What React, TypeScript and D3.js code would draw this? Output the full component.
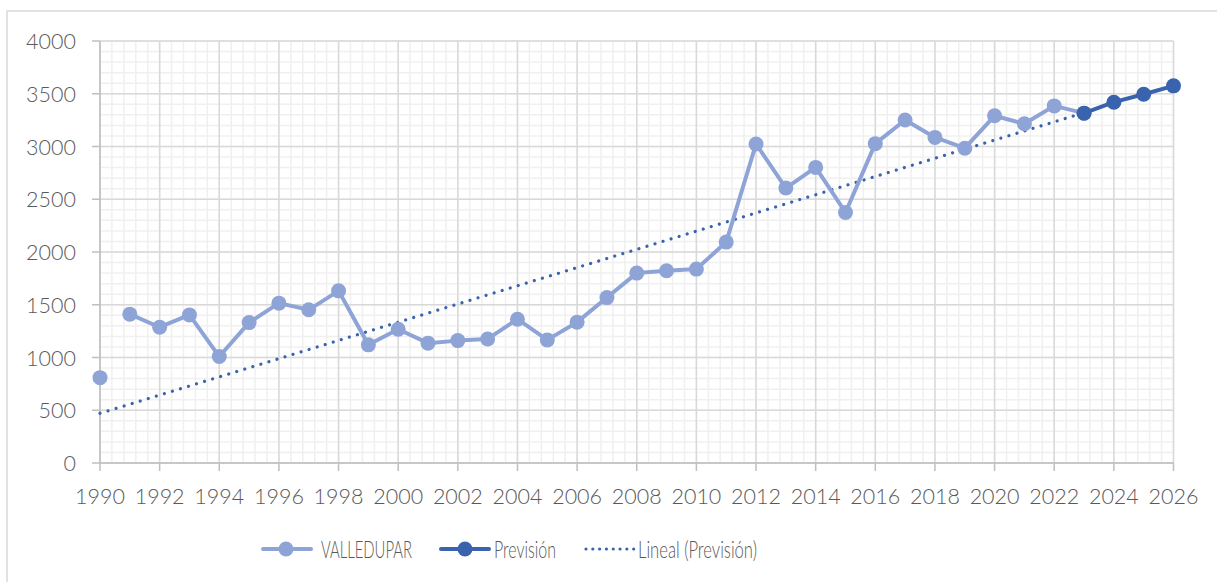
import React from 'react';
import * as d3 from 'd3';

// historical series, 1990-2023 (1990 stands alone, no segment to 1991)
const years: number[] = d3.range(1990, 2024);
const valledupar: number[] = [
    809, 1411, 1287, 1404, 1009, 1331, 1515, 1452, 1632, 1120,
    1268, 1136, 1160, 1176, 1363, 1167, 1335, 1568, 1800, 1822,
    1838, 2094, 3024, 2606, 2802, 2375, 3027, 3251, 3086, 2984,
    3291, 3215, 3385, 3316
];

// forecast series
const forecastYears: number[] = [2023, 2024, 2025, 2026];
const forecast: number[] = [3316, 3420, 3495, 3575];

// linear trend endpoints
const trendYears: number[] = [1990, 2023];
const trendValues: number[] = [471, 3320];

const yTicks: number[] = [0, 500, 1000, 1500, 2000, 2500, 3000, 3500, 4000];
const xTicks: number[] = d3.range(1990, 2027, 2);

const W = 1217;
const H = 582;
const FONT = 'Lato, "Open Sans", sans-serif';
const TEXT = '#595959';
const LIGHT = '#8fa4d6';
const DARK = '#3a63ae';

const App: React.FC = () => {
    const x = d3.scaleLinear().domain([1990, 2026]).range([100, 1173.5]);
    const y = d3.scaleLinear().domain([0, 4000]).range([463, 41]);

    const histPts: [number, number][] = years.map((yr, i) => [yr, valledupar[i]]);
    const fcPts: [number, number][] = forecastYears.map((yr, i) => [yr, forecast[i]]);
    const trendPts: [number, number][] = trendYears.map((yr, i) => [yr, trendValues[i]]);

    const line = d3.line<[number, number]>()
        .x(d => x(d[0]))
        .y(d => y(d[1]));

    // the reference has no segment between the first two years
    const histLine = d3.line<[number, number]>()
        .defined(d => d[0] !== 1990)
        .x(d => x(d[0]))
        .y(d => y(d[1]));

    const minorX = d3.range(0, 91).map(i => 1990 + i * 0.4);
    const minorY = d3.range(0, 4001, 100);

    const [x0, x1] = x.range();
    const [yb, yt] = y.range();

    return (
        <div style={{ position: 'fixed', left: 0, top: 0 }}>
            <svg width={W} height={H} style={{ display: 'block', background: '#fff' }}>
                <rect x={7} y={11} width={1400} height={800} fill="#fff" stroke="#d9d9d9" strokeWidth={1.5} />

                {/* minor grid */}
                <g stroke="#f0f0f0" strokeWidth={1.5}>
                    {minorX.map(v => (
                        <line key={'mx' + v} x1={x(v)} x2={x(v)} y1={yt} y2={yb} />
                    ))}
                    {minorY.map(v => (
                        <line key={'my' + v} x1={x0} x2={x1} y1={y(v)} y2={y(v)} />
                    ))}
                </g>
                {/* major grid */}
                <g stroke="#d9d9d9" strokeWidth={1.5}>
                    {xTicks.map(v => (
                        <line key={'gx' + v} x1={x(v)} x2={x(v)} y1={yt} y2={yb} />
                    ))}
                    {yTicks.map(v => (
                        <line key={'gy' + v} x1={x0} x2={x1} y1={y(v)} y2={y(v)} />
                    ))}
                </g>

                {/* axes */}
                <g stroke="#bfbfbf" strokeWidth={1.5}>
                    <line x1={x0} x2={x0} y1={yt} y2={yb} />
                    <line x1={x0} x2={x1} y1={yb} y2={yb} />
                    {yTicks.map(v => (
                        <line key={'ty' + v} x1={x0 - 8} x2={x0} y1={y(v)} y2={y(v)} />
                    ))}
                    {xTicks.map(v => (
                        <line key={'tx' + v} x1={x(v)} x2={x(v)} y1={yb} y2={yb + 8} />
                    ))}
                </g>

                <g fontFamily={FONT} fontWeight={300} fontSize={21.5} fill={TEXT}>
                    {yTicks.map(v => (
                        <text key={'ly' + v} x={76} y={y(v) + 8} textAnchor="end">{v}</text>
                    ))}
                    {xTicks.map(v => (
                        <text key={'lx' + v} x={x(v)} y={504} textAnchor="middle">{v}</text>
                    ))}
                </g>

                {/* trend */}
                <path d={line(trendPts) || ''} fill="none" stroke={DARK} strokeWidth={3.2}
                    strokeLinecap="round" strokeDasharray="0.01 8.4" />

                {/* historical */}
                <path d={histLine(histPts) || ''} fill="none" stroke={LIGHT} strokeWidth={4} strokeLinejoin="round" />
                {histPts.map(p => (
                    <circle key={'h' + p[0]} cx={x(p[0])} cy={y(p[1])} r={7.5} fill={LIGHT} />
                ))}

                {/* forecast */}
                <path d={line(fcPts) || ''} fill="none" stroke={DARK} strokeWidth={4} strokeLinejoin="round" />
                {fcPts.map(p => (
                    <circle key={'f' + p[0]} cx={x(p[0])} cy={y(p[1])} r={7.5} fill={DARK} />
                ))}

                {/* legend */}
                <g fontFamily={FONT} fontWeight={300} fontSize={24} fill={TEXT}>
                    <line x1={263} x2={311} y1={549} y2={549} stroke={LIGHT} strokeWidth={4} strokeLinecap="round" />
                    <circle cx={286} cy={549} r={7.5} fill={LIGHT} />
                    <text x={321} y={557.5} textLength={91} lengthAdjust="spacingAndGlyphs">VALLEDUPAR</text>

                    <line x1={441} x2={489} y1={549} y2={549} stroke={DARK} strokeWidth={4} strokeLinecap="round" />
                    <circle cx={465} cy={549} r={7.5} fill={DARK} />
                    <text x={494} y={557.5} textLength={62} lengthAdjust="spacingAndGlyphs">Previsión</text>

                    <line x1={586} x2={634} y1={549} y2={549} stroke={DARK} strokeWidth={3.2}
                        strokeLinecap="round" strokeDasharray="0.01 6.8" />
                    <text x={638} y={557.5} textLength={119} lengthAdjust="spacingAndGlyphs">Lineal (Previsión)</text>
                </g>
            </svg>
        </div>
    );
};

export default App;
